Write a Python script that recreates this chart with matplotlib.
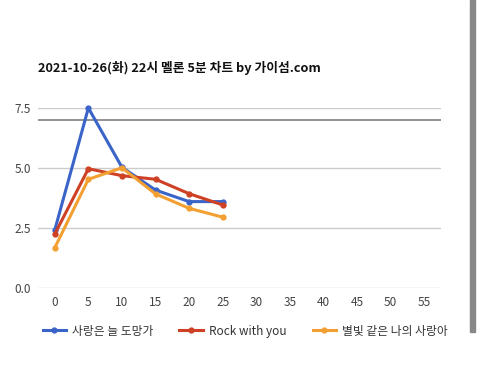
import matplotlib
matplotlib.use('Agg')
import matplotlib.pyplot as plt
from matplotlib.patches import Rectangle

plt.rcParams['font.family'] = ['Noto Sans CJK KR', 'DejaVu Sans']

# 데이터 (5분 단위)
minutos = [0, 5, 10, 15, 20, 25]
nomes = ['사랑은 늘 도망가', 'Rock with you', '별빛 같은 나의 사랑아']
serie1 = [2.42, 7.5, 5.03, 4.08, 3.6, 3.6]
serie2 = [2.25, 4.97, 4.68, 4.53, 3.93, 3.46]
serie3 = [1.68, 4.53, 5.01, 3.92, 3.32, 2.95]
cores = ['#3a64c8', '#cf4124', '#f3a033']
xticks = [0, 5, 10, 15, 20, 25, 30, 35, 40, 45, 50, 55]
yticks = [0.0, 2.5, 5.0, 7.5]
titulo = '2021-10-26(화) 22시 멜론 5분 차트 by 가이섬.com'

fig = plt.figure(figsize=(4.8, 3.79), dpi=100)
ax = fig.add_axes([38 / 480, 1 - 288 / 379, 403 / 480, 180 / 379])

for serie, nome, cor in zip([serie1, serie2, serie3], nomes, cores):
    ax.plot(minutos, serie, color=cor, lw=2.2, marker='o', ms=3.5,
            label=nome, clip_on=False, zorder=3)

ax.set_xlim(-2.5, 57.5)
ax.set_ylim(0, 7.5)
ax.set_xticks(xticks)
ax.set_yticks(yticks)
ax.set_yticklabels(['%.1f' % v for v in yticks])
ax.grid(axis='y', color='#cccccc', lw=1)
ax.axhline(7.0, color='#808080', lw=1.2, zorder=2)
for s in ax.spines.values():
    s.set_visible(False)
ax.tick_params(length=0, labelsize=8.5, colors='#444444', pad=6)
ax.tick_params(axis='y', pad=5)

fig.text(38 / 480, 1 - 68 / 379, titulo, fontsize=9.2, fontweight='bold',
         va='center', ha='left', color='#111111')

fig.legend(loc='center left', bbox_to_anchor=(32 / 480, 1 - 331 / 379),
           ncol=3, frameon=False, fontsize=8.5, handlelength=2.0,
           columnspacing=2.2, handletextpad=0.5, labelcolor='#333333')

# barra de rolagem à direita
fig.patches.append(Rectangle((470 / 480, 1 - 332 / 379), 5 / 480, 332 / 379,
                             transform=fig.transFigure, color='#888888'))

fig.savefig('out.png', dpi=100)
